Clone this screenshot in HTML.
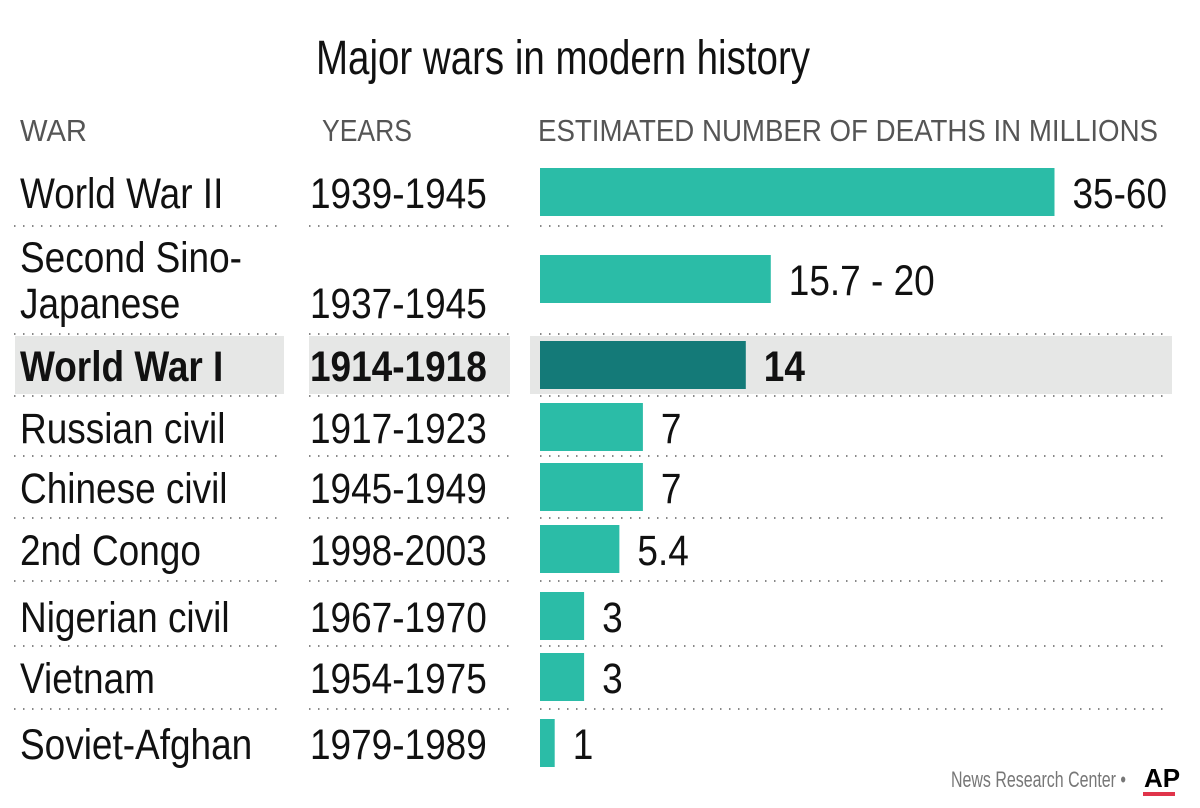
<!DOCTYPE html>
<html><head><meta charset="utf-8"><style>
html,body{margin:0;padding:0;background:#fff;}
svg{display:block;font-family:"Liberation Sans Narrow","Liberation Sans",sans-serif;}
</style></head><body>
<svg id="chart" width="1200" height="808" viewBox="0 0 1200 808" xmlns="http://www.w3.org/2000/svg">
<rect x="0" y="0" width="1200" height="808" fill="#fff"/>
<text x="563" y="74" font-size="48" text-anchor="middle" fill="#111" textLength="494" lengthAdjust="spacingAndGlyphs">Major wars in modern history</text>
<text x="20" y="141" font-size="31" fill="#555" textLength="67" lengthAdjust="spacingAndGlyphs">WAR</text>
<text x="322" y="141" font-size="31" fill="#555" textLength="90" lengthAdjust="spacingAndGlyphs">YEARS</text>
<text x="538" y="141" font-size="31" fill="#555" textLength="620" lengthAdjust="spacingAndGlyphs">ESTIMATED NUMBER OF DEATHS IN MILLIONS</text>
<g id="rows"></g>
<text x="1126" y="787" font-size="22" fill="#777" text-anchor="end" textLength="175" lengthAdjust="spacingAndGlyphs">News Research Center •</text>
<text x="1144" y="787" font-size="26" font-weight="bold" fill="#000" font-family="Liberation Sans, sans-serif">AP</text>
<rect x="1143" y="792" width="32" height="4" fill="#e0344a"/>
</svg>
<script>
const wars = ["World War II","Second Sino-|Japanese","World War I","Russian civil","Chinese civil","2nd Congo","Nigerian civil","Vietnam","Soviet-Afghan"];
const years = ["1939-1945","1937-1945","1914-1918","1917-1923","1945-1949","1998-2003","1967-1970","1954-1975","1979-1989"];
const deaths = [35,15.7,14,7,7,5.4,3,3,1];
const valueLabels = ["35-60","15.7 - 20","14","7","7","5.4","3","3","1"];
const highlight = [false,false,true,false,false,false,false,false,false];

const NS="http://www.w3.org/2000/svg";
const g=document.getElementById('rows');
const x0=540, pxPerUnit=14.7;
const xScale=v=>x0+v*pxPerUnit;
const barTop=[168,255,341,403,463,525,592,653,719];
const barH=48;
const lineY=[226,334,396,456,518,581,646,709];
const FS=43, SX=0.86;
function mk(tag,attrs){const e=document.createElementNS(NS,tag);for(const k in attrs)e.setAttribute(k,attrs[k]);g.appendChild(e);return e;}
function condensed(x,y,bold){return {x:x,y:y,'font-size':FS,fill:'#111','font-weight':bold?'bold':'normal',transform:`translate(${x},0) scale(${SX},1) translate(${-x},0)`};}
highlight.forEach((h,i)=>{
  if(!h)return;
  let r=mk('rect',{x:15,y:336,width:269,height:58,fill:'#e6e7e6'});
  
  
  r=mk('rect',{x:309,y:336,width:201,height:58,fill:'#e6e7e6'});
  
  
  r=mk('rect',{x:530,y:336,width:642,height:58,fill:'#e6e7e6'});
  
  
});
lineY.forEach(y=>{
  [[14,278],[309,509],[540,1170]].forEach(([a,b])=>{
    const l=mk('line',{x1:a,x2:b,y1:y,y2:y,stroke:'#888','stroke-width':2,'stroke-dasharray':'1.5 7.5'});
    
    
  });
});
wars.forEach((w,i)=>{
  const bold=highlight[i];
  const base=barTop[i]+barH/2+16;
  const parts=w.split('|');
  parts.forEach((p,j)=>{
    const y=parts.length>1?(j===0?272:318):base;
    const t=mk('text',condensed(20,y,bold));
    t.textContent=p;
    
    
  });
  const yy=parts.length>1?318:base;
  const ty=mk('text',condensed(310,yy,bold));
  ty.textContent=years[i];
  
  
  const end=xScale(deaths[i]);
  const b=mk('rect',{x:x0,y:barTop[i],width:end-x0,height:barH,fill:bold?'#147a78':'#2bbca7'});
  
  
  const v=mk('text',condensed(end+18,base,bold));
  v.textContent=valueLabels[i];
  
  
});
</script>
</body></html>
